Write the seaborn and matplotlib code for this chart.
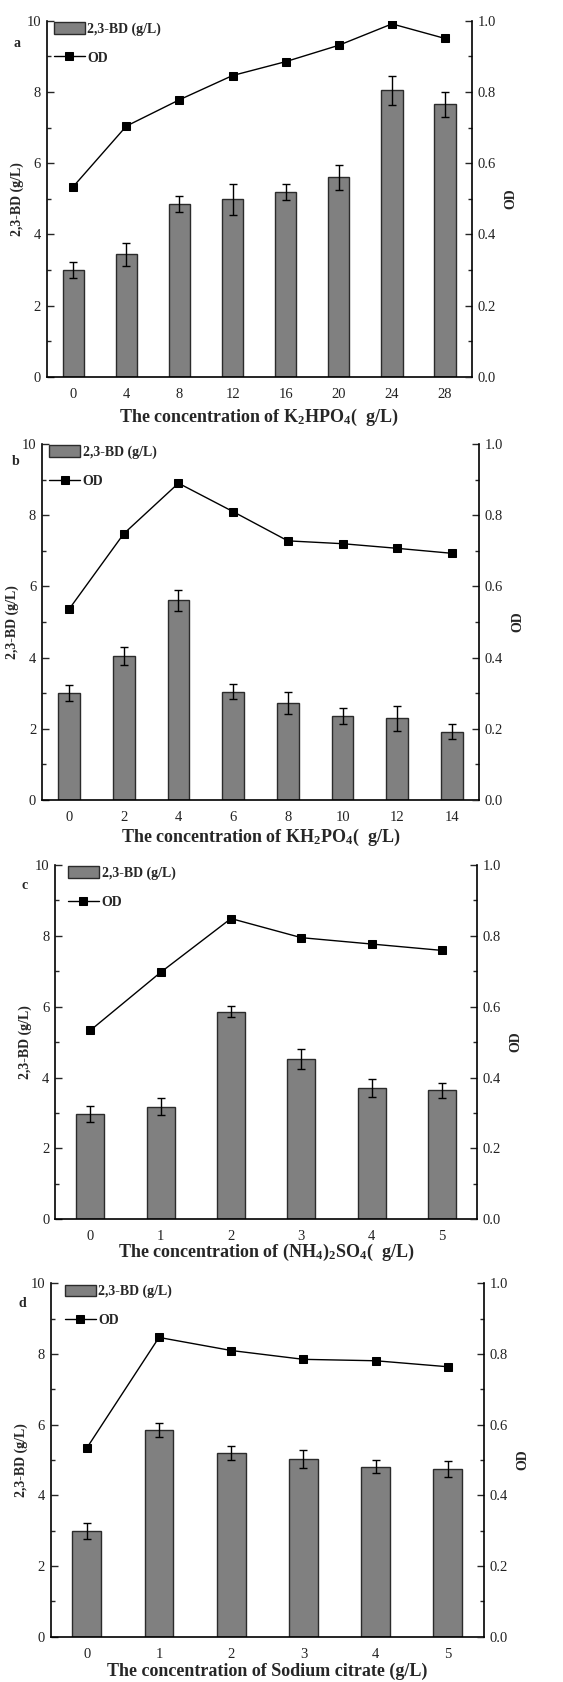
import numpy as np
import pandas as pd
import seaborn as sns
import matplotlib
matplotlib.use("Agg")
import matplotlib.pyplot as plt
from matplotlib.ticker import MultipleLocator, FormatStrFormatter

# ---------------- data ----------------
a_x = ['0', '4', '8', '12', '16', '20', '24', '28']
a_bd = [3.00, 3.44, 4.85, 4.98, 5.18, 5.60, 8.04, 7.65]
a_err = [0.23, 0.33, 0.23, 0.43, 0.22, 0.36, 0.41, 0.36]
a_od = [0.534, 0.704, 0.778, 0.846, 0.885, 0.931, 0.991, 0.950]

b_x = ['0', '2', '4', '6', '8', '10', '12', '14']
b_bd = [3.00, 4.04, 5.61, 3.04, 2.72, 2.36, 2.29, 1.92]
b_err = [0.22, 0.26, 0.30, 0.21, 0.30, 0.22, 0.35, 0.21]
b_od = [0.536, 0.748, 0.890, 0.810, 0.728, 0.720, 0.707, 0.693]

c_x = ['0', '1', '2', '3', '4', '5']
c_bd = [2.98, 3.18, 5.86, 4.52, 3.70, 3.64]
c_err = [0.22, 0.23, 0.15, 0.28, 0.26, 0.21]
c_od = [0.533, 0.697, 0.849, 0.795, 0.777, 0.759]

d_x = ['0', '1', '2', '3', '4', '5']
d_bd = [2.99, 5.84, 5.20, 5.03, 4.81, 4.75]
d_err = [0.22, 0.20, 0.21, 0.26, 0.18, 0.22]
d_od = [0.534, 0.847, 0.810, 0.785, 0.781, 0.764]

panel_letters = ['a', 'b', 'c', 'd']
x_titles = [
    r'The concentration of K$_\mathbf{2}$HPO$_\mathbf{4}$(  g/L)',
    r'The concentration of KH$_\mathbf{2}$PO$_\mathbf{4}$(  g/L)',
    r'The concentration of (NH$_\mathbf{4}$)$_\mathbf{2}$SO$_\mathbf{4}$(  g/L)',
    'The concentration of Sodium citrate (g/L)',
]
bar_label = '2,3-BD (g/L)'
line_label = 'OD'
left_ylabel = '2,3-BD (g/L)'
right_ylabel = 'OD'

# ---------------- style ----------------
sns.set_style('ticks')
plt.rcParams['font.family'] = ['Liberation Serif', 'DejaVu Serif']
plt.rcParams['mathtext.fontset'] = 'custom'
plt.rcParams['mathtext.rm'] = 'Liberation Serif'
plt.rcParams['mathtext.bf'] = 'Liberation Serif:bold'
plt.rcParams['mathtext.it'] = 'Liberation Serif:italic'

fig = plt.figure(figsize=(5.63, 16.82), dpi=100)

positions = [
    (0.0829, 0.7760, 0.7549, 0.2117),
    (0.0741, 0.5244, 0.7772, 0.2116),
    (0.0977, 0.2751, 0.7501, 0.2106),
    (0.0900, 0.0269, 0.7697, 0.2101),
]
letter_pos = [(0.030, 0.9744), (0.027, 0.7255), (0.044, 0.4738), (0.040, 0.2251)]
xlabel_pads = [4, 2, -1, 1]
legend_x = [0.014, 0.014, 0.028, 0.030]

panels = [
    (a_x, a_bd, a_err, a_od),
    (b_x, b_bd, b_err, b_od),
    (c_x, c_bd, c_err, c_od),
    (d_x, d_bd, d_err, d_od),
]

BAR = '#808080'
EDGE = '#2b2b2b'
TICKC = '#222222'

for i, (xs, bd, err, od) in enumerate(panels):
    ax = fig.add_axes(positions[i])
    n = len(xs)
    df = pd.DataFrame({'conc': xs, 'bd': bd, 'od': od})
    sns.barplot(data=df, x='conc', y='bd', order=xs, ax=ax, color=BAR,
                saturation=1, width=0.4, edgecolor=EDGE, linewidth=1.0,
                errorbar=None, label=bar_label)
    if ax.get_legend() is not None:
        ax.get_legend().remove()
    ax.errorbar(np.arange(n), bd, yerr=err, fmt='none', ecolor='black',
                elinewidth=1.0, capsize=3.2, capthick=1.0, zorder=5)
    ax2 = ax.twinx()
    sns.lineplot(x=np.arange(n), y=od, ax=ax2, color='black', marker='s',
                 markersize=5.5, markeredgecolor='black', linewidth=1.0,
                 label=line_label, legend=False)
    if ax2.get_legend() is not None:
        ax2.get_legend().remove()
    ax.set_xlim(-0.5, n - 0.5)
    ax.set_ylim(0, 10)
    ax2.set_ylim(0, 1.0)

    ax.yaxis.set_major_locator(MultipleLocator(2))
    ax.yaxis.set_minor_locator(MultipleLocator(1))
    ax2.yaxis.set_major_locator(MultipleLocator(0.2))
    ax2.yaxis.set_minor_locator(MultipleLocator(0.1))
    ax2.yaxis.set_major_formatter(FormatStrFormatter('%.1f'))

    for a in (ax, ax2):
        a.spines['top'].set_visible(False)
        for s in a.spines.values():
            s.set_linewidth(1.2)
            s.set_color('black')
    ax.spines['right'].set_visible(False)
    ax2.spines['left'].set_visible(False)
    ax2.spines['bottom'].set_visible(False)

    ax.tick_params(axis='y', which='major', direction='in', length=5, width=1.0,
                   labelsize=10.5, labelcolor=TICKC, pad=4)
    ax.tick_params(axis='y', which='minor', direction='in', length=3, width=1.0)
    ax.tick_params(axis='x', which='both', length=0, labelsize=10.5,
                   labelcolor=TICKC, pad=8)
    ax2.tick_params(axis='y', which='major', direction='in', length=5, width=1.0,
                    labelsize=10.5, labelcolor=TICKC, pad=4)
    ax2.tick_params(axis='y', which='minor', direction='in', length=3, width=1.0)

    ax.set_xlabel(x_titles[i], fontsize=13, fontweight='bold', labelpad=xlabel_pads[i])
    ax.set_ylabel(left_ylabel, fontsize=10, fontweight='bold', labelpad=2)
    ax2.set_ylabel(right_ylabel, fontsize=10, fontweight='bold', labelpad=6)

    h1, l1 = ax.get_legend_handles_labels()
    h2, l2 = ax2.get_legend_handles_labels()
    ax2.legend(h1 + h2, l1 + l2, loc='upper left', bbox_to_anchor=(legend_x[i], 1.0),
               frameon=False, prop={'weight': 'bold', 'size': 10},
               handlelength=2.2, handleheight=0.9, handletextpad=0.2,
               labelspacing=1.1, borderpad=0.1, borderaxespad=0.0,
               numpoints=1)

    fig.text(letter_pos[i][0], letter_pos[i][1], panel_letters[i],
             fontsize=10, fontweight='bold', ha='center', va='center')

fig.savefig('out.png', dpi=100)
